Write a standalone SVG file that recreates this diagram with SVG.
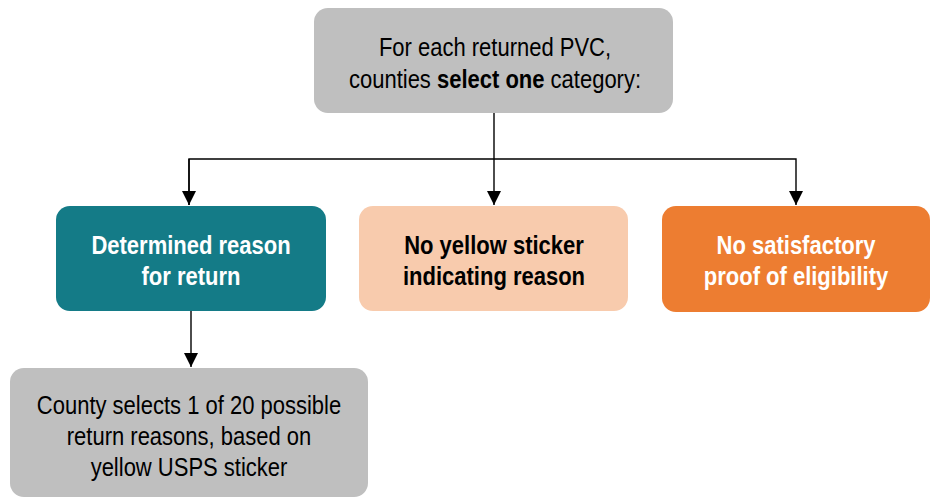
<svg xmlns="http://www.w3.org/2000/svg" width="930" height="499" viewBox="0 0 930 499">
<defs>
<marker id="arr" viewBox="0 0 14 14" refX="14" refY="7" markerWidth="14" markerHeight="14" markerUnits="userSpaceOnUse" orient="auto">
<path d="M0,0 L14,7 L0,14 z" fill="#000"/>
</marker>
<style>
text{font-family:"Liberation Sans",Arial,sans-serif;font-size:25px;text-anchor:middle}
.b{font-weight:bold;fill:#fff}
.k{font-weight:bold;fill:#000}
.c{stroke:#000;stroke-width:1.4;fill:none}
</style>
</defs>
<rect width="930" height="499" fill="#fff"/>
<g id="connectors">
<path class="c" d="M494,113 V205" marker-end="url(#arr)"/>
<path class="c" d="M189,205 V159 H796 V205" marker-end="url(#arr)"/>
<path class="c" d="M189,159 V205" marker-end="url(#arr)"/>
<path class="c" d="M191,311 V367" marker-end="url(#arr)"/>
</g>
<g id="top">
<rect x="314" y="8" width="359" height="105" rx="14" fill="#BFBFBF"/>
<g transform="translate(495 0) scale(0.88 1)">
<text x="0" y="56">For each returned PVC,</text>
<text x="0" y="88">counties <tspan font-weight="bold">select one</tspan> category:</text>
</g>
</g>
<g id="determined">
<rect x="56" y="206" width="270" height="105" rx="14" fill="#147B87"/>
<g transform="translate(191 0) scale(0.88 1)">
<text class="b" x="0" y="254">Determined reason</text>
<text class="b" x="0" y="285">for return</text>
</g>
</g>
<g id="nosticker">
<rect x="359" y="206" width="269" height="105" rx="14" fill="#F8CBAD"/>
<g transform="translate(494 0) scale(0.88 1)">
<text class="k" x="0" y="254">No yellow sticker</text>
<text class="k" x="0" y="285">indicating reason</text>
</g>
</g>
<g id="noproof">
<rect x="662" y="206" width="268" height="106" rx="14" fill="#ED7D31"/>
<g transform="translate(796 0) scale(0.88 1)">
<text class="b" x="0" y="254">No satisfactory</text>
<text class="b" x="0" y="285">proof of eligibility</text>
</g>
</g>
<g id="county">
<rect x="10" y="368" width="358" height="129" rx="14" fill="#BFBFBF"/>
<g transform="translate(189 0) scale(0.88 1)">
<text x="0" y="414">County selects 1 of 20 possible</text>
<text x="0" y="445">return reasons, based on</text>
<text x="0" y="476">yellow USPS sticker</text>
</g>
</g>
</svg>
